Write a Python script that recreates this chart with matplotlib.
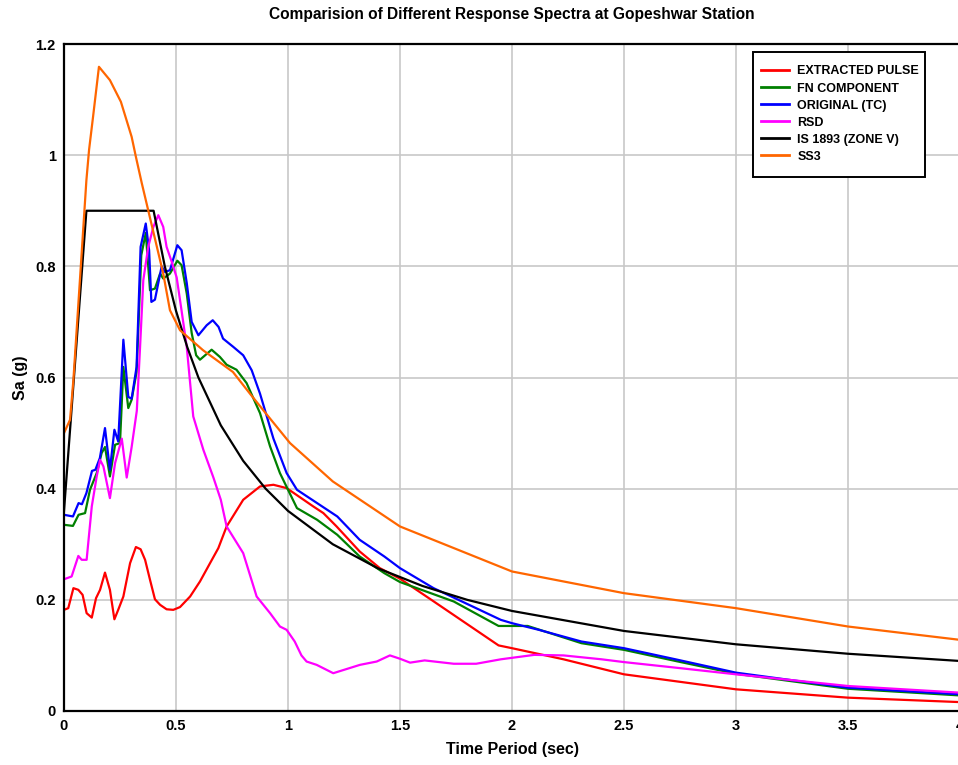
import matplotlib
matplotlib.use("Agg")
import matplotlib.pyplot as plt
from matplotlib import font_manager
from matplotlib.patches import Rectangle

# ---------------- data ----------------
T_pulse = [0, 0.019, 0.042, 0.064, 0.083, 0.101, 0.124, 0.143, 0.161, 0.183, 0.205, 0.225,
           0.242, 0.265, 0.295, 0.321, 0.342, 0.362, 0.384, 0.406, 0.429, 0.458, 0.488, 0.518,
           0.563, 0.607, 0.652, 0.689, 0.726, 0.8, 0.875, 0.935, 0.994, 1.113, 1.158, 1.217,
           1.32, 1.41, 1.5, 1.64, 1.94, 2.0, 2.23, 2.5, 3.0, 3.5, 4.0]
Sa_pulse = [0.182, 0.185, 0.221, 0.218, 0.209, 0.176, 0.168, 0.203, 0.218, 0.249, 0.218, 0.165,
            0.182, 0.206, 0.266, 0.295, 0.291, 0.272, 0.236, 0.201, 0.191, 0.183, 0.182, 0.187,
            0.206, 0.233, 0.266, 0.293, 0.332, 0.38, 0.404, 0.407, 0.401, 0.368, 0.356, 0.332,
            0.287, 0.257, 0.238, 0.2, 0.118, 0.113, 0.093, 0.066, 0.039, 0.024, 0.016]

T_fn = [0, 0.04, 0.065, 0.094, 0.116, 0.146, 0.168, 0.183, 0.205, 0.228, 0.25, 0.265, 0.287,
        0.302, 0.324, 0.345, 0.365, 0.384, 0.406, 0.429, 0.443, 0.473, 0.506, 0.525, 0.548,
        0.57, 0.59, 0.607, 0.659, 0.696, 0.726, 0.77, 0.815, 0.875, 0.92, 0.964, 1.04, 1.13,
        1.22, 1.32, 1.43, 1.5, 1.74, 1.94, 2.07, 2.31, 2.5, 2.73, 3.0, 3.5, 4.0]
Sa_fn = [0.335, 0.333, 0.353, 0.356, 0.398, 0.428, 0.464, 0.475, 0.422, 0.479, 0.482, 0.619,
         0.545, 0.56, 0.61, 0.82, 0.86, 0.757, 0.76, 0.787, 0.778, 0.787, 0.81, 0.802, 0.751,
         0.68, 0.64, 0.632, 0.65, 0.637, 0.623, 0.614, 0.59, 0.536, 0.476, 0.428, 0.365, 0.344,
         0.317, 0.278, 0.248, 0.232, 0.197, 0.153, 0.153, 0.122, 0.11, 0.09, 0.067, 0.04, 0.028]

T_orig = [0, 0.04, 0.065, 0.08, 0.10, 0.125, 0.14, 0.16, 0.183, 0.205, 0.225, 0.242, 0.265,
          0.287, 0.302, 0.324, 0.342, 0.365, 0.38, 0.39, 0.406, 0.436, 0.45, 0.473, 0.506,
          0.525, 0.548, 0.57, 0.6, 0.637, 0.664, 0.69, 0.71, 0.756, 0.8, 0.838, 0.875, 0.935,
          0.994, 1.04, 1.13, 1.22, 1.32, 1.43, 1.5, 1.65, 1.74, 1.95, 2.0, 2.12, 2.31, 2.5,
          2.73, 3.0, 3.22, 3.5, 4.0]
Sa_orig = [0.353, 0.35, 0.374, 0.372, 0.392, 0.432, 0.434, 0.455, 0.509, 0.434, 0.506, 0.485,
           0.668, 0.565, 0.562, 0.619, 0.835, 0.877, 0.829, 0.736, 0.74, 0.8, 0.79, 0.793, 0.838,
           0.829, 0.77, 0.70, 0.676, 0.694, 0.703, 0.691, 0.67, 0.655, 0.64, 0.613, 0.571, 0.49,
           0.428, 0.398, 0.374, 0.35, 0.308, 0.278, 0.257, 0.221, 0.204, 0.164, 0.158, 0.146,
           0.125, 0.113, 0.093, 0.069, 0.057, 0.042, 0.03]

T_rsd = [0, 0.034, 0.064, 0.079, 0.101, 0.124, 0.146, 0.161, 0.176, 0.205, 0.228, 0.258, 0.28,
         0.302, 0.325, 0.339, 0.354, 0.376, 0.399, 0.421, 0.443, 0.458, 0.481, 0.503, 0.525,
         0.548, 0.577, 0.622, 0.667, 0.70, 0.726, 0.8, 0.86, 0.92, 0.964, 0.994, 1.03, 1.06,
         1.083, 1.128, 1.202, 1.321, 1.396, 1.455, 1.5, 1.545, 1.61, 1.74, 1.84, 1.95, 2.1,
         2.23, 2.4, 2.5, 2.73, 3.0, 3.5, 4.0]
Sa_rsd = [0.237, 0.242, 0.279, 0.272, 0.272, 0.368, 0.422, 0.452, 0.44, 0.383, 0.446, 0.49,
          0.42, 0.475, 0.54, 0.65, 0.775, 0.835, 0.871, 0.892, 0.871, 0.835, 0.808, 0.78, 0.72,
          0.655, 0.53, 0.47, 0.42, 0.38, 0.332, 0.284, 0.206, 0.176, 0.152, 0.146, 0.125, 0.10,
          0.089, 0.083, 0.068, 0.083, 0.089, 0.1, 0.094, 0.087, 0.091, 0.085, 0.085, 0.093,
          0.101, 0.1, 0.093, 0.088, 0.078, 0.066, 0.045, 0.033]

T_is = [0, 0.1, 0.4, 0.45, 0.5, 0.55, 0.6, 0.7, 0.8, 0.9, 1.0, 1.2, 1.4, 1.6, 1.8, 2.0,
        2.5, 3.0, 3.5, 4.0]
Sa_is = [0.36, 0.9, 0.9, 0.8, 0.72, 0.655, 0.6, 0.514, 0.45, 0.4, 0.36, 0.3, 0.257, 0.225,
         0.2, 0.18, 0.144, 0.12, 0.103, 0.09]

T_ss3 = [0, 0.027, 0.042, 0.071, 0.1, 0.112, 0.13, 0.156, 0.205, 0.254, 0.302, 0.321, 0.347,
         0.4, 0.443, 0.473, 0.518, 0.621, 0.754, 0.83, 0.906, 1.009, 1.2, 1.5, 2.0, 2.5, 3.0,
         3.5, 4.0]
Sa_ss3 = [0.5, 0.524, 0.596, 0.775, 0.955, 1.01, 1.07, 1.159, 1.135, 1.096, 1.033, 0.997, 0.95,
          0.86, 0.787, 0.721, 0.685, 0.649, 0.61, 0.571, 0.533, 0.482, 0.413, 0.332, 0.251,
          0.212, 0.185, 0.152, 0.128]

labels = ["EXTRACTED PULSE", "FN COMPONENT", "ORIGINAL (TC)", "RSD", "IS 1893 (ZONE V)", "SS3"]
colors = ["#ff0000", "#008000", "#0000ff", "#ff00ff", "#000000", "#ff6600"]

xticks = [0, 0.5, 1, 1.5, 2, 2.5, 3, 3.5, 4]
xticklabels = ["0", "0.5", "1", "1.5", "2", "2.5", "3", "3.5", "4"]
yticks = [0, 0.2, 0.4, 0.6, 0.8, 1.0, 1.2]
yticklabels = ["0", "0.2", "0.4", "0.6", "0.8", "1", "1.2"]

title = "Comparision of Different Response Spectra at Gopeshwar Station"
xlabel = "Time Period (sec)"
ylabel = "Sa (g)"

# ---------------- styling ----------------
names = {f.name for f in font_manager.fontManager.ttflist}
narrow = "Liberation Sans Narrow" if "Liberation Sans Narrow" in names else "Liberation Sans"
plt.rcParams['font.family'] = [narrow, 'DejaVu Sans']

W, H = 958, 765
fig = plt.figure(figsize=(W / 100, H / 100), dpi=100)
left_px, right_px, top_px, bot_px = 64, 960, 44, 711
aw, ah = right_px - left_px, bot_px - top_px
ax = fig.add_axes([left_px / W, 1 - bot_px / H, aw / W, ah / H])

series = [(T_pulse, Sa_pulse), (T_fn, Sa_fn), (T_orig, Sa_orig), (T_rsd, Sa_rsd),
          (T_is, Sa_is), (T_ss3, Sa_ss3)]
for (t, s), lab, c in zip(series, labels, colors):
    ax.plot(t, s, color=c, lw=1.6, label=lab, solid_joinstyle='round')

ax.set_xlim(0, 4)
ax.set_ylim(0, 1.2)
ax.set_xticks(xticks)
ax.set_xticklabels(xticklabels)
ax.set_yticks(yticks)
ax.set_yticklabels(yticklabels)
ax.grid(True, color="#c8c8c8", lw=1.2)
ax.set_axisbelow(True)
ax.tick_params(length=0, pad=6, labelsize=10.5)
for lab in ax.get_xticklabels() + ax.get_yticklabels():
    lab.set_fontweight('bold')
for sp in ax.spines.values():
    sp.set_linewidth(1.6)
    sp.set_color('black')

ax.set_xlabel(xlabel, fontsize=11.5, fontweight='bold', labelpad=6)
ax.set_ylabel(ylabel, fontsize=11.5, fontweight='bold', labelpad=5)
fig.text(512 / W, 1 - 14 / H, title, ha='center', va='center', fontsize=11.2, fontweight='bold')

# legend box (frame drawn separately to match the reference padding)
bx0, by0, bx1, by1 = 753, 52, 925, 177
ax.add_patch(Rectangle(((bx0 - left_px) / aw, (bot_px - by1) / ah),
                       (bx1 - bx0) / aw, (by1 - by0) / ah, transform=ax.transAxes,
                       facecolor='white', edgecolor='black', lw=1.4, zorder=5))
leg = ax.legend(loc='upper left', bbox_to_anchor=((bx0 - left_px) / aw, (bot_px - 58) / ah),
                prop={'weight': 'bold', 'size': 9}, frameon=False,
                handlelength=2.3, handletextpad=0.65, labelspacing=0.4, borderpad=0.6,
                borderaxespad=0)
leg.set_zorder(6)
for h in leg.get_lines():
    h.set_linewidth(2.0)

fig.savefig("out.png", dpi=100)
